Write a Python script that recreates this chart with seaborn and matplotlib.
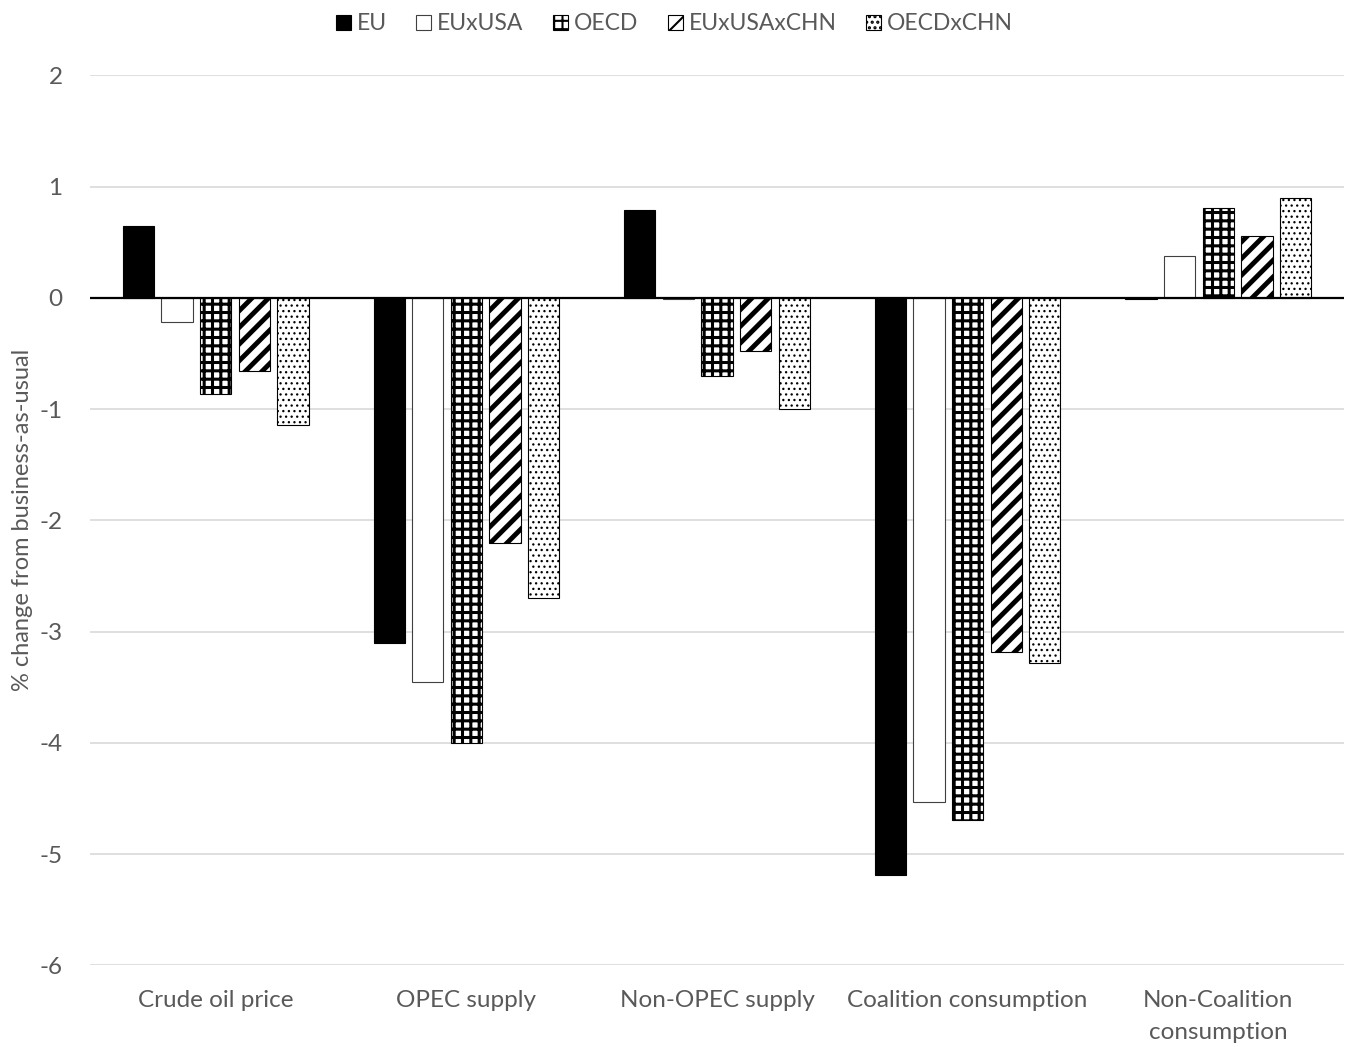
import matplotlib
matplotlib.use("Agg")
import matplotlib.pyplot as plt
import matplotlib.patches as mpatches
import seaborn as sns
import pandas as pd

categories = ["Crude oil price", "OPEC supply", "Non-OPEC supply",
              "Coalition consumption", "Non-Coalition\nconsumption"]
scenarios = ["EU", "EUxUSA", "OECD", "EUxUSAxCHN", "OECDxCHN"]

eu = [0.65, -3.10, 0.79, -5.19, -0.01]
eu_usa = [-0.22, -3.45, -0.01, -4.53, 0.38]
oecd = [-0.86, -4.00, -0.70, -4.69, 0.81]
eu_usa_chn = [-0.66, -2.20, -0.48, -3.18, 0.56]
oecd_chn = [-1.14, -2.70, -1.00, -3.28, 0.90]

yticks = [2, 1, 0, -1, -2, -3, -4, -5, -6]

series = [eu, eu_usa, oecd, eu_usa_chn, oecd_chn]
rows = []
for name, vals in zip(scenarios, series):
    for cat, v in zip(categories, vals):
        rows.append({"category": cat, "scenario": name, "value": v})
df = pd.DataFrame(rows)

# fill / hatch / edge per scenario
styles = {
    "EU": dict(face="black", hatch="", edge="black", hlw=1.0),
    "EUxUSA": dict(face="white", hatch="", edge="#404040", hlw=1.0),
    "OECD": dict(face="white", hatch="++", edge="black", hlw=2.2),
    "EUxUSAxCHN": dict(face="white", hatch="//", edge="black", hlw=3.5),
    "OECDxCHN": dict(face="white", hatch="...", edge="black", hlw=0.9),
}

sns.set_theme(style="white")
plt.rcParams["font.family"] = ["Lato", "DejaVu Sans"]
plt.rcParams["hatch.color"] = "black"
plt.rcParams["hatch.linewidth"] = 1.5

fig = plt.figure(figsize=(13.49, 10.47), dpi=100)
ax = fig.add_axes([0.067, 0.078, 0.929, 0.85])

sns.barplot(data=df, x="category", y="value", hue="scenario",
            hue_order=scenarios, order=categories, width=0.77, gap=0.19,
            palette=["white"] * 5, legend=False, ax=ax, errorbar=None)

for name, cont in zip(scenarios, ax.containers):
    st = styles[name]
    for bar in cont:
        bar.set_facecolor(st["face"])
        bar.set_edgecolor(st["edge"])
        bar.set_linewidth(0.8)
        bar.set_hatch(st["hatch"])
        if hasattr(bar, "set_hatch_linewidth"):
            bar.set_hatch_linewidth(st["hlw"])
        bar.set_zorder(3)

ax.set_ylim(-6, 2)
ax.set_yticks(yticks)
ax.set_yticklabels([str(t) for t in yticks])
ax.yaxis.grid(True, color="#d9d9d9", linewidth=1.2, zorder=0)
ax.set_axisbelow(True)
ax.axhline(0, color="black", linewidth=1.6, zorder=4)
for s in ax.spines.values():
    s.set_visible(False)
ax.tick_params(axis="both", length=0, labelsize=17.5, colors="#595959")
ax.tick_params(axis="x", pad=18)
ax.tick_params(axis="y", pad=20)
for lbl in ax.get_xticklabels():
    lbl.set_linespacing(1.65)
ax.set_xlabel("")
ax.set_ylabel("% change from business-as-usual", fontsize=17, color="#595959", labelpad=5)

handles = []
for name in scenarios:
    st = styles[name]
    p = mpatches.Patch(facecolor=st["face"], edgecolor=st["edge"], hatch=st["hatch"],
                       linewidth=0.8, label=name)
    handles.append(p)
fig.legend(handles=handles, loc="upper center", bbox_to_anchor=(0.5, 1.007), ncol=5,
           frameon=False, fontsize=16.5, labelcolor="#595959", handlelength=0.65,
           handleheight=0.65, handletextpad=0.25, columnspacing=1.3)

fig.savefig("out.png", dpi=100)
